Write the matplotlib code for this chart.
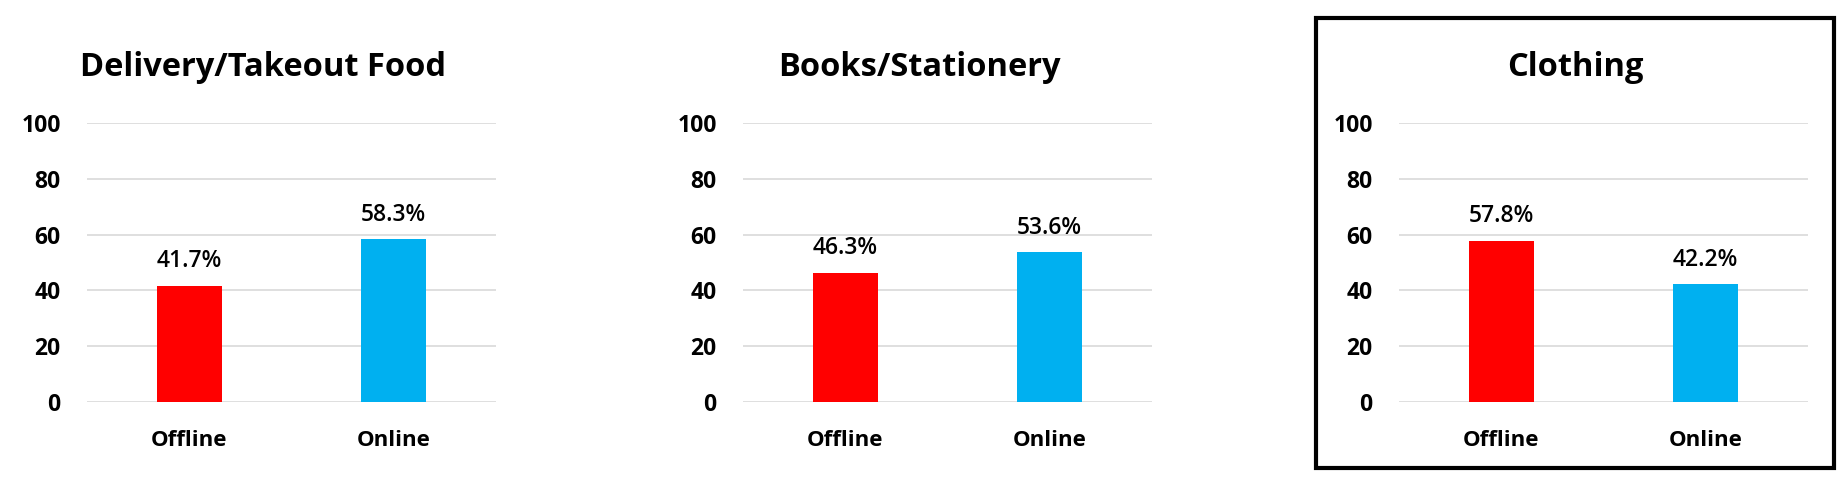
import matplotlib
matplotlib.use("Agg")
import matplotlib.pyplot as plt
from matplotlib.patches import Rectangle

plt.rcParams['font.family'] = ['Open Sans', 'DejaVu Sans']

# data
titles = ["Delivery/Takeout Food", "Books/Stationery", "Clothing"]
channels = ["Offline", "Online"]
offline = [41.7, 46.3, 57.8]
online = [58.3, 53.6, 42.2]
yticks = [0, 20, 40, 60, 80, 100]
bar_colors = ["#FF0000", "#00B0F0"]

W, H = 1844, 492
fig = plt.figure(figsize=(W / 100, H / 100), dpi=100)

# panel layout in pixels
ax_left = [87, 743, 1399]
ax_width = 409
title_x = [263, 919, 1575]
y_top, y_bot = 123, 402

for i, left in enumerate(ax_left):
    ax = fig.add_axes([left / W, (H - y_bot) / H, ax_width / W, (y_bot - y_top) / H])
    vals = [offline[i], online[i]]
    x = range(len(channels))
    ax.bar(x, vals, width=0.32, color=bar_colors, zorder=3)
    for xi, v in zip(x, vals):
        ax.annotate(f"{v:.1f}%", (xi, v), xytext=(0, 9), textcoords="offset points",
                    ha="center", va="bottom", fontsize=16.5, fontweight="semibold")
    ax.set_xlim(-0.5, 1.5)
    ax.set_ylim(0, 100)
    ax.set_yticks(yticks)
    ax.set_xticks(list(x))
    ax.set_xticklabels(channels, fontsize=16, fontweight="bold")
    ax.set_yticklabels([str(t) for t in yticks], fontsize=16.5, fontweight="bold")
    ax.tick_params(axis="both", length=0)
    ax.tick_params(axis="y", pad=19)
    ax.tick_params(axis="x", pad=20)
    ax.grid(axis="y", color="#d9d9d9", linewidth=1.2, zorder=0)
    ax.set_axisbelow(True)
    for s in ax.spines.values():
        s.set_visible(False)
    fig.text(title_x[i] / W, (H - 68) / H, titles[i], ha="center", va="center",
             fontsize=23.5, fontweight="bold")

# frame around the third panel
fig.patches.append(Rectangle((1316 / W, (H - 468) / H), (1834 - 1316) / W, (468 - 18) / H,
                             transform=fig.transFigure, fill=False,
                             edgecolor="black", linewidth=3))

fig.savefig("out.png", dpi=100)
